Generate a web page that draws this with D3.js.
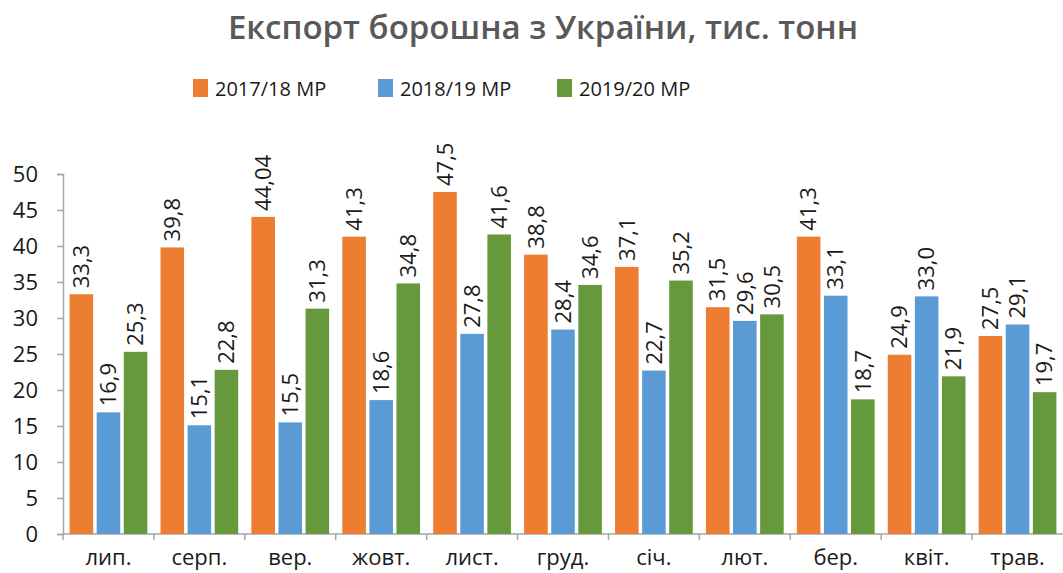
<!DOCTYPE html>
<html>
<head>
<meta charset="utf-8">
<script src="https://cdn.jsdelivr.net/npm/d3@7"></script>
<style>
  body { margin: 0; background: #fff; }
  svg { display: block; font-family: "Open Sans", "Noto Sans", sans-serif; }
</style>
</head>
<body>
<svg></svg>
<script>
// дані
let months = ["лип.", "серп.", "вер.", "жовт.", "лист.", "груд.", "січ.", "лют.", "бер.", "квіт.", "трав."];
let seriesNames = ["2017/18 МР", "2018/19 МР", "2019/20 МР"];
let mr1718 = [33.3, 39.8, 44.04, 41.3, 47.5, 38.8, 37.1, 31.5, 41.3, 24.9, 27.5];
let mr1819 = [16.9, 15.1, 15.5, 18.6, 27.8, 28.4, 22.7, 29.6, 33.1, 33.0, 29.1];
let mr1920 = [25.3, 22.8, 31.3, 34.8, 41.6, 34.6, 35.2, 30.5, 18.7, 21.9, 19.7];
let yTicks = [0, 5, 10, 15, 20, 25, 30, 35, 40, 45, 50];
let colors = ["#ED7D31", "#5B9BD5", "#65993B"];

let svgWidth = 1063;
let svgHeight = 573;
let margin = {top: 174, right: 0, bottom: 39, left: 63};

let svg = d3.select("svg")
	.attr("width", svgWidth)
	.attr("height", svgHeight);

let values = [mr1718, mr1819, mr1920];
let rows = [];
months.forEach(function(m, i) {
	seriesNames.forEach(function(s, j) {
		rows.push({month: m, series: s, value: values[j][i], k: j});
	});
});

let x0 = d3.scaleBand()
	.domain(months)
	.range([margin.left, svgWidth - margin.right])
	.paddingInner(0.145)
	.paddingOuter(0.0725);

let x1 = d3.scaleBand()
	.domain(seriesNames)
	.range([0, x0.bandwidth()])
	.paddingInner(0.13);

let yScale = d3.scaleLinear()
	.domain([0, 50])
	.range([svgHeight - margin.bottom, margin.top]);

// заголовок
svg.append("text")
	.attr("x", 543)
	.attr("y", 39)
	.attr("text-anchor", "middle")
	.attr("font-size", 33)
	.attr("font-weight", 600)
	.attr("fill", "#595959")
	.text("Експорт борошна з України, тис. тонн");

// легенда
let legendX = [193, 378, 557];
let legend = svg.selectAll(".legend")
	.data(seriesNames)
	.enter()
	.append("g")
	.attr("transform", function(d, i) { return "translate(" + legendX[i] + ",79)"; });
legend.append("rect")
	.attr("width", 15)
	.attr("height", 18)
	.attr("fill", function(d, i) { return colors[i]; });
legend.append("text")
	.attr("x", 22)
	.attr("y", 10)
	.attr("dy", "0.35em")
	.attr("font-size", 20)
	.attr("fill", "#1a1a1a")
	.text(function(d) { return d; });

// осі
let yAxis = svg.append("g")
	.attr("transform", "translate(" + margin.left + ",0)")
	.call(d3.axisLeft(yScale).tickValues(yTicks).tickSize(6).tickPadding(19));
yAxis.select(".domain").attr("stroke", "#a6a6a6").attr("stroke-width", 1.5);
yAxis.selectAll(".tick line").attr("stroke", "#a6a6a6").attr("stroke-width", 1.5);
yAxis.selectAll(".tick text")
	.attr("font-size", 22)
	.attr("fill", "#1a1a1a")
	.attr("font-family", "Open Sans, sans-serif");

let baseY = yScale(0);
let xAxis = svg.append("g");
xAxis.append("line")
	.attr("x1", margin.left)
	.attr("x2", svgWidth)
	.attr("y1", baseY)
	.attr("y2", baseY)
	.attr("stroke", "#a6a6a6")
	.attr("stroke-width", 1.5);
xAxis.selectAll(".xtick")
	.data(months)
	.enter()
	.append("line")
	.attr("x1", function(d) { return x0(d) - x0.step() * x0.paddingInner() / 2; })
	.attr("x2", function(d) { return x0(d) - x0.step() * x0.paddingInner() / 2; })
	.attr("y1", baseY)
	.attr("y2", baseY + 6)
	.attr("stroke", "#a6a6a6")
	.attr("stroke-width", 1.5);
xAxis.selectAll(".xlabel")
	.data(months)
	.enter()
	.append("text")
	.attr("x", function(d) { return x0(d) + x0.bandwidth() / 2; })
	.attr("y", 557)
	.attr("dy", "0.35em")
	.attr("text-anchor", "middle")
	.attr("font-size", 22)
	.attr("fill", "#1a1a1a")
	.text(function(d) { return d; });

// стовпці
svg.selectAll(".bar")
	.data(rows)
	.enter()
	.append("rect")
	.attr("x", function(d) { return x0(d.month) + x1(d.series); })
	.attr("y", function(d) { return yScale(d.value); })
	.attr("width", x1.bandwidth())
	.attr("height", function(d) { return baseY - yScale(d.value); })
	.attr("fill", function(d) { return colors[d.k]; });

function fmt(v) {
	let s = Number.isInteger(Math.round(v * 100) / 10) ? v.toFixed(1) : v.toFixed(2);
	return s.replace(".", ",");
}

// підписи
svg.selectAll(".label")
	.data(rows)
	.enter()
	.append("text")
	.attr("transform", function(d) {
		let cx = x0(d.month) + x1(d.series) + x1.bandwidth() / 2;
		return "translate(" + cx + "," + (yScale(d.value) - 6) + ") rotate(-90)";
	})
	.attr("dy", "0.35em")
	.attr("font-size", 22)
	.attr("fill", "#1a1a1a")
	.text(function(d) { return fmt(d.value); });
</script>
</body>
</html>
